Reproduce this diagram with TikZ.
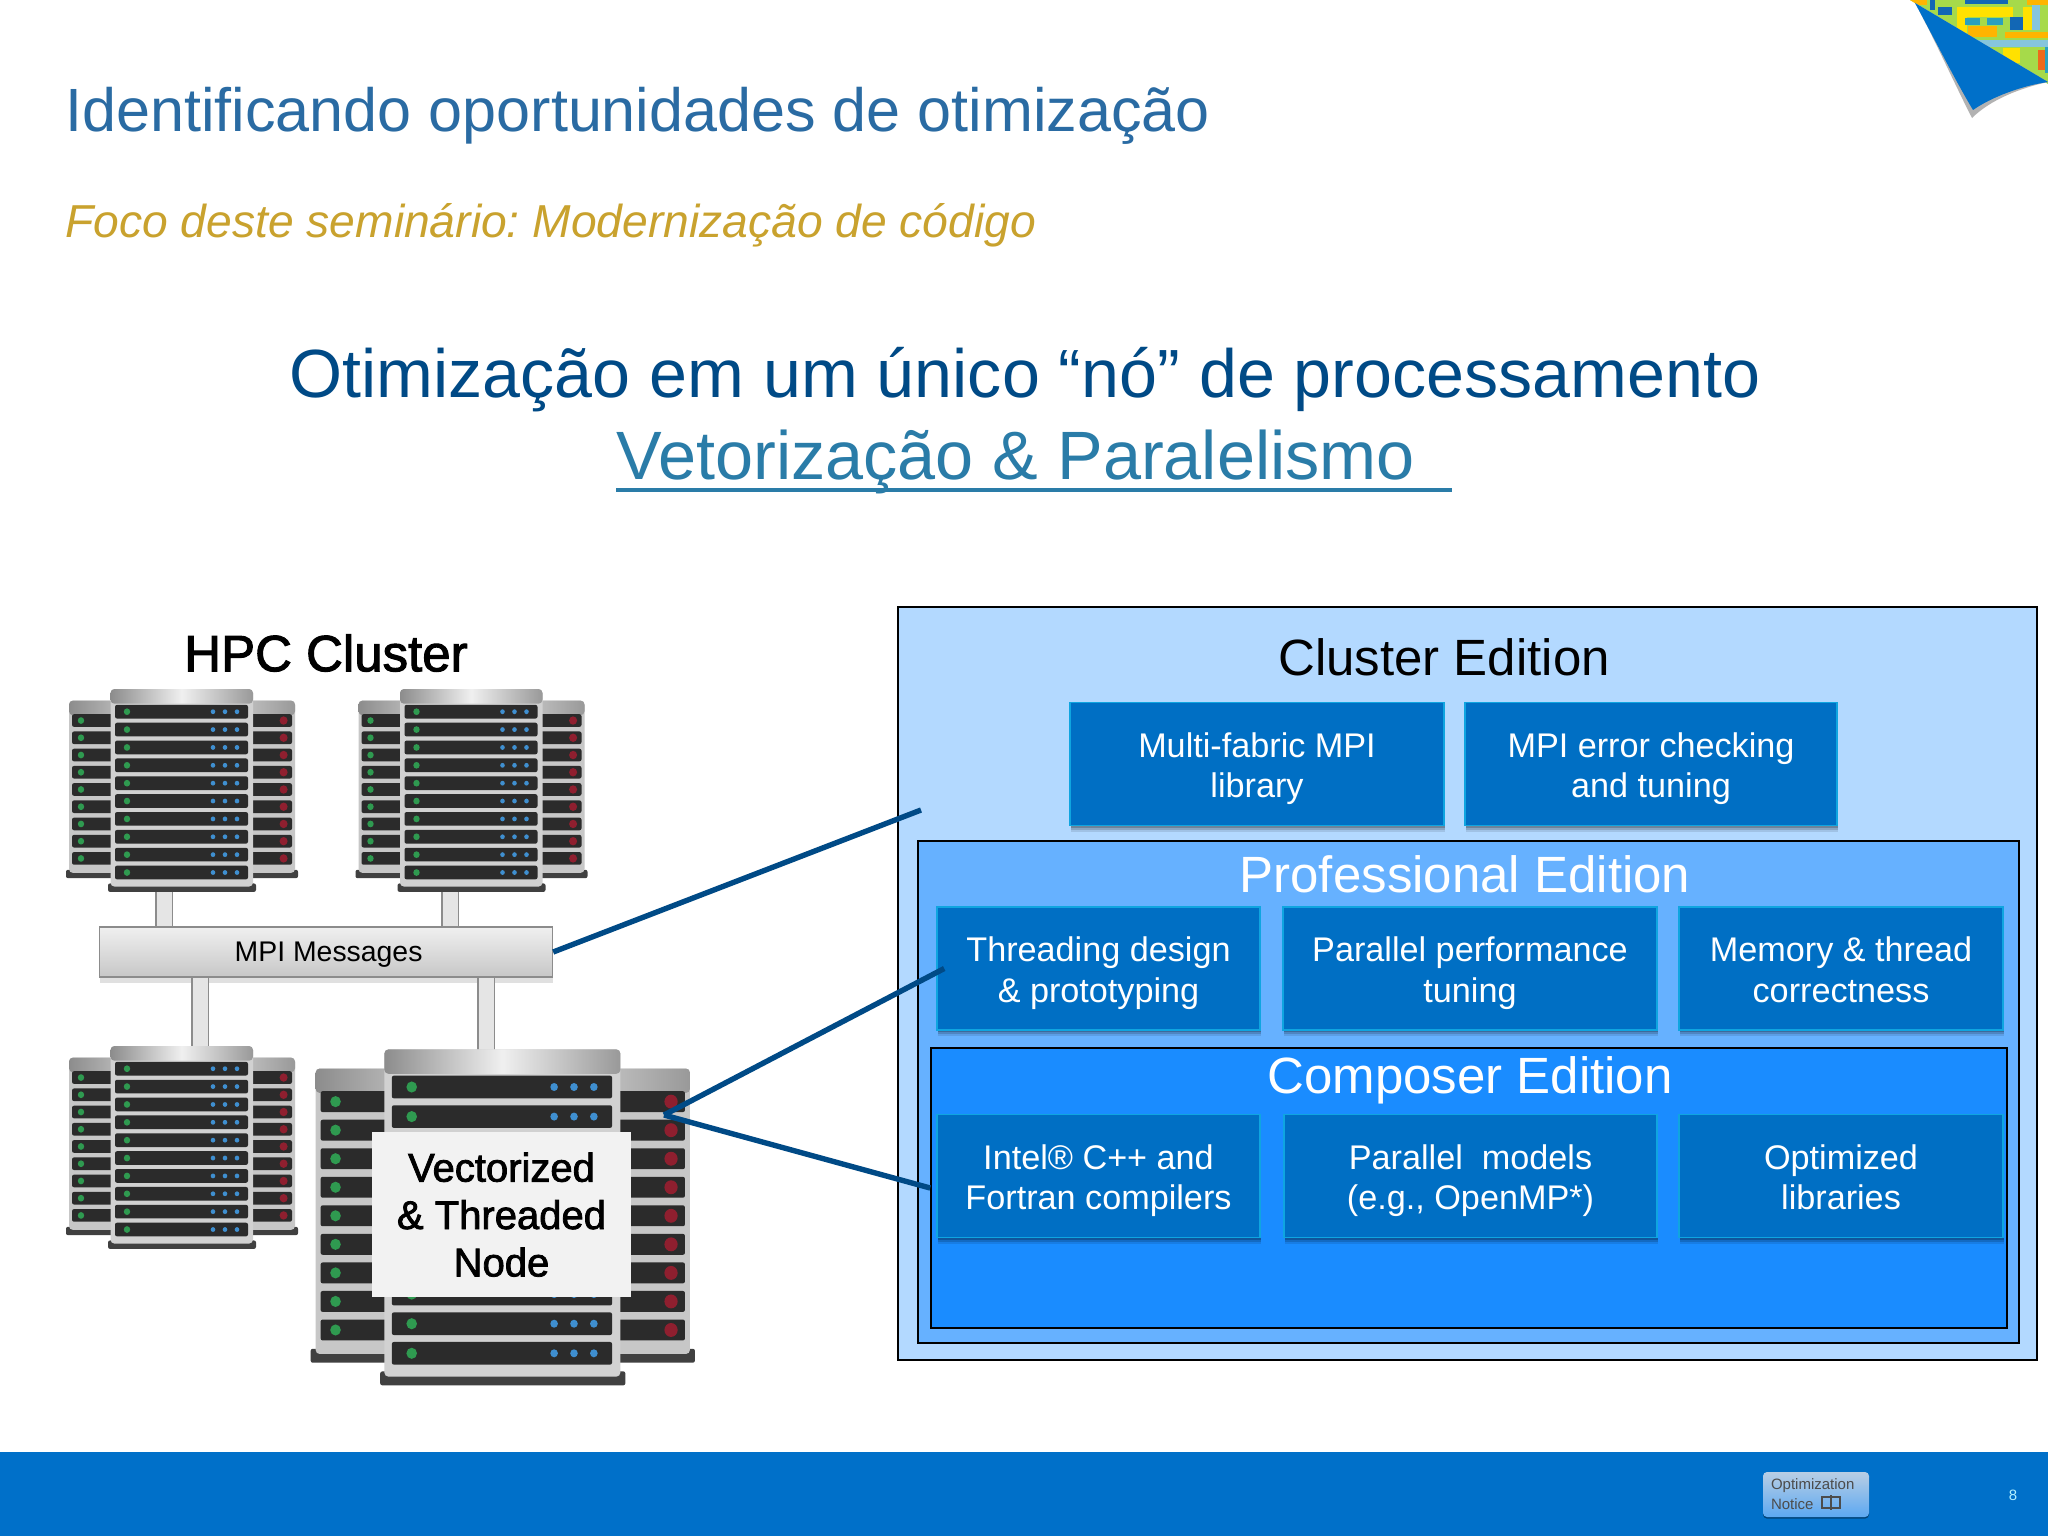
\documentclass[tikz,border=0pt]{standalone}
\usepackage{fontspec}
\setmainfont{Liberation Sans}
\newfontfamily\heavyfont[FakeBold=2]{Liberation Sans}
\usetikzlibrary{shadows}
\frenchspacing
\definecolor{titleblue}{HTML}{2A6BA3}
\definecolor{navy}{HTML}{004A86}
\definecolor{teal}{HTML}{2A7CA8}
\definecolor{gold}{HTML}{C9A22E}
\definecolor{clusterfill}{HTML}{B3D9FF}
\definecolor{profill}{HTML}{66B1FF}
\definecolor{composerfill}{HTML}{1A8CFF}
\definecolor{toolfill}{HTML}{006FC4}
\definecolor{toolline}{HTML}{0FA5E0}
\definecolor{footblue}{HTML}{0070C9}
\definecolor{tileyellow}{HTML}{FFE100}
\definecolor{tileblue}{HTML}{1267B5}
\definecolor{tileteal}{HTML}{2AA0BE}
\definecolor{tilesky}{HTML}{86C5DC}
\definecolor{tileorange}{HTML}{FFB400}
\definecolor{tilegreen}{HTML}{A6DA4A}
\definecolor{tilered}{HTML}{EE6A1C}
\definecolor{ledblue}{HTML}{3F8FD0}
\definecolor{ledgreen}{HTML}{2F9A50}
\definecolor{ledred}{HTML}{8F1F2F}
\definecolor{unitdark}{HTML}{2B2B2B}
\definecolor{noticetop}{HTML}{B8CEE4}
\definecolor{noticebot}{HTML}{5CA8F2}
\tikzset{
	edition/.style={draw=black,line width=0.8pt,inner sep=0pt},
	toolbox/.style={fill=toolfill,draw=toolline,line width=0.8pt,text=white,align=center,inner sep=0pt,
		minimum height=61.5pt,font=\fontsize{17.1}{20.25}\selectfont,text height=33.8pt,text depth=0pt,
		drop shadow={shadow xshift=0.4pt,shadow yshift=-1pt,opacity=0.2,fill=black},
		drop shadow={shadow xshift=0.4pt,shadow yshift=-2pt,opacity=0.15,fill=black},
		drop shadow={shadow xshift=0.4pt,shadow yshift=-3pt,opacity=0.1,fill=black}},
	edlabel/.style={font=\fontsize{25.5}{30}\selectfont},
	link/.style={navy,line width=2.7pt},
	pipe/.style={draw=black!45,double=black!10,double distance=7.5pt,line width=0.7pt},
	silver/.style={left color=black!45,right color=black!40,middle color=black!6}
}
% one rack of servers, origin at its top left corner
\newcommand{\serverrack}[3]{
	\begin{scope}[shift={(#1,#2)},xscale=#3,yscale=1.051*#3]
		\fill[black!75,rounded corners=1pt] (-2,172) rectangle (230,180);
		\fill[black!22,rounded corners=2pt] (1,11) rectangle (227,175);
		\shade[silver,rounded corners=2pt] (1,11) rectangle (227,25);
		\foreach \i in {0,...,8} {
			\pgfmathsetmacro{\ya}{30+16.4*\i}
			\fill[unitdark,rounded corners=1pt] (4,\ya-6) rectangle (224,\ya+6);
			\fill[ledgreen] (13,\ya) circle (3.2);
			\fill[ledred] (215.6,\ya) circle (4);
		}
		\fill[black!75,rounded corners=1pt] (40,185) rectangle (188,193);
		\fill[black!18,rounded corners=2pt] (42.5,0) rectangle (185,188);
		\shade[silver,rounded corners=2pt] (42.5,0) rectangle (185,14);
		\foreach \i in {0,...,9} {
			\pgfmathsetmacro{\ya}{21.6+17*\i}
			\fill[unitdark,rounded corners=1pt] (47,\ya-6.5) rectangle (180,\ya+6.5);
			\fill[ledgreen] (59,\ya) circle (3.2);
			\foreach \xa in {145,157,169} \fill[ledblue] (\xa,\ya) circle (2.3);
		}
	\end{scope}
}
\begin{document}
\begin{tikzpicture}[x=0.5pt,y=-0.5pt]
	\useasboundingbox (0,0) rectangle (2048,1536);
	\fill[white] (0,0) rectangle (2048,1536);
	% corner
	\begin{scope}
		\clip (1910,0) -- (2048,0) -- (2048,84) -- cycle;
		\fill[tilegreen] (1910,0) rectangle (2048,84);
		\foreach \xa/\ya/\xb/\yb/\tile in {1910/0/1927/5/tileorange,1930/0/1935/10/tileblue,1938/7/1952/15/tileblue,
			1965/0/2008/4/tileblue,2027/0/2048/5/tileorange,1957/7/2013/17/tileyellow,2023/7/2033/30/tileyellow,
			2032/5/2040/30/tilesky,2010/17/2023/30/tileblue,1957/17/1967/33/tileyellow,1965/18/1980/25/tileteal,
			1987/18/2003/25/tileteal,1968/26/1997/37/tileorange,2005/32/2048/38/tileorange,1977/40/2048/47/tilesky,
			2003/48/2020/63/tileyellow,2038/50/2045/70/tilered,2045/47/2048/73/tileteal}
			\fill[\tile] (\xa,\ya) rectangle (\xb,\yb);
	\end{scope}
	\fill[black!30] (1915,3) .. controls (1935,40) and (1955,85) .. (1972,118) .. controls (1990,100) and (2020,88) .. (2048,82) -- cycle;
	\fill[footblue] (1915,3) .. controls (1935,40) and (1955,80) .. (1973,110) .. controls (1990,98) and (2020,86) .. (2048,82) -- cycle;
	% headings
	\node[anchor=west,inner sep=0pt,text=titleblue,font=\fontsize{30.55}{34}\selectfont] (title) at (65,116) {Identificando oportunidades de otimização};
	\node[anchor=west,inner sep=0pt,text=gold,font=\fontsize{23.1}{26}\selectfont\itshape] (subtitle) at (65,225) {Foco deste seminário: Modernização de código};
	\node[inner sep=0pt,text=navy,font=\fontsize{34.1}{40}\selectfont] (headline) at (1025,380) {Otimização em um único “nó” de processamento};
	\node[anchor=west,inner sep=0pt,text=teal,font=\fontsize{34.2}{40}\selectfont] (vetor) at (616,462) {Vetorização \& Paralelismo};
	\coordinate (ulstart) at (616,490); \coordinate (ulend) at (1452,490);
	\draw[teal,line width=2pt] (ulstart) -- (ulend);
	% footer
	\fill[footblue] (0,1452) rectangle (2048,1536);
	\node[shade,top color=noticetop,bottom color=noticebot,rounded corners=2pt,
		minimum width=53pt,minimum height=22.5pt,inner sep=0pt,text=black!70,align=left,
		drop shadow={shadow xshift=0pt,shadow yshift=-0.8pt,opacity=0.4,fill=black},
		font=\fontsize{7.5}{10}\selectfont,text width=45pt] (notice) at (1816,1494.5) {Optimization\\Notice};
	\draw[black!70,line width=0.7pt] (1822,1497) rectangle (1840,1508) (1831,1495) -- (1831,1510);
	\node[text=blue!20!cyan!30!white,font=\fontsize{7.5}{9}\selectfont,inner sep=0pt] (pagenum) at (2013,1495) {8};
	% racks
	\coordinate (pipeA) at (164,890); \coordinate (pipeB) at (450,890);
	\coordinate (pipeC) at (200,1048); \coordinate (pipeD) at (486,1052);
	\node[inner sep=0pt,font=\heavyfont\fontsize{25.5}{30}\selectfont] (hpc) at (326,653) {HPC Cluster};
	\node[shade,top color=black!6,bottom color=black!22,draw=black!45,line width=0.7pt,minimum width=226.5pt,minimum height=25pt,
		drop shadow={shadow xshift=0pt,shadow yshift=-3pt,opacity=0.12,fill=black},
		inner sep=0pt,text depth=0pt,font=\fontsize{14.2}{16}\selectfont] (mpi) at (326,952) {\hspace*{2.6pt}MPI Messages};
	\draw[pipe] (pipeA) -- (pipeA |- mpi.north);
	\draw[pipe] (pipeB) -- (pipeB |- mpi.north);
	\draw[pipe] (pipeC) -- (pipeC |- mpi.south);
	\draw[pipe] (pipeD) -- (pipeD |- mpi.south);
	\serverrack{68}{689}{1}
	\serverrack{357.5}{689}{1}
	\serverrack{68}{1046}{1}
	\serverrack{314}{1049.4}{1.656}
	\node[fill=black!5,minimum width=129.5pt,minimum height=82.3pt,inner sep=0pt,align=center,
		font=\heavyfont\fontsize{20}{23.7}\selectfont] (vecnode) at (501.5,1214.7) {Vectorized\\\& Threaded\\Node};
	% editions
	\node[edition,fill=clusterfill,minimum width=569.5pt,minimum height=376.5pt] (cluster) at (1467.5,983.5) {};
	\node[edlabel] (clusterlabel) at (1444,657) {Cluster Edition};
	\node[edition,fill=profill,minimum width=550.5pt,minimum height=251pt] (pro) at (1468.5,1092) {};
	\node[edlabel,text=white] (prolabel) at (1465,874) {Professional Edition};
	\node[toolbox,minimum width=187pt] (fabric) at (1257,764) {Multi-fabric MPI\\library};
	\node[toolbox,minimum width=186pt] (mpierror) at (1651,764) {MPI error checking\\and tuning};
	\node[toolbox,minimum width=161.5pt] (threading) at (1098.5,968.5) {Threading design\\\& prototyping};
	\node[toolbox,minimum width=187pt] (perf) at (1470,968.5) {Parallel performance\\tuning};
	\node[toolbox,minimum width=162pt] (memory) at (1841,968.5) {Memory \& thread\\correctness};
	\node[edition,fill=composerfill,minimum width=538pt,minimum height=140pt] (composer) at (1469,1188) {};
	\node[edlabel,text=white] (composerlabel) at (1470,1080) {Composer Edition};
	\node[toolbox,minimum width=161.5pt] (compilers) at (1098.5,1176) {Intel® C++ and\\Fortran compilers};
	\node[toolbox,minimum width=186.5pt] (models) at (1470.5,1176) {Parallel\ \ models\\(e.g., OpenMP*)};
	\node[toolbox,minimum width=162pt] (libraries) at (1841,1176) {Optimized\\libraries};
	% links
	\coordinate (clustertip) at (921,810); \coordinate (hub) at (664,1115);
	\draw[link] (mpi.east) -- (clustertip);
	\draw[link] (hub) -- ([xshift=4pt]threading.west);
	\draw[link] (hub) -- (composer.west);
\end{tikzpicture}
\end{document}
